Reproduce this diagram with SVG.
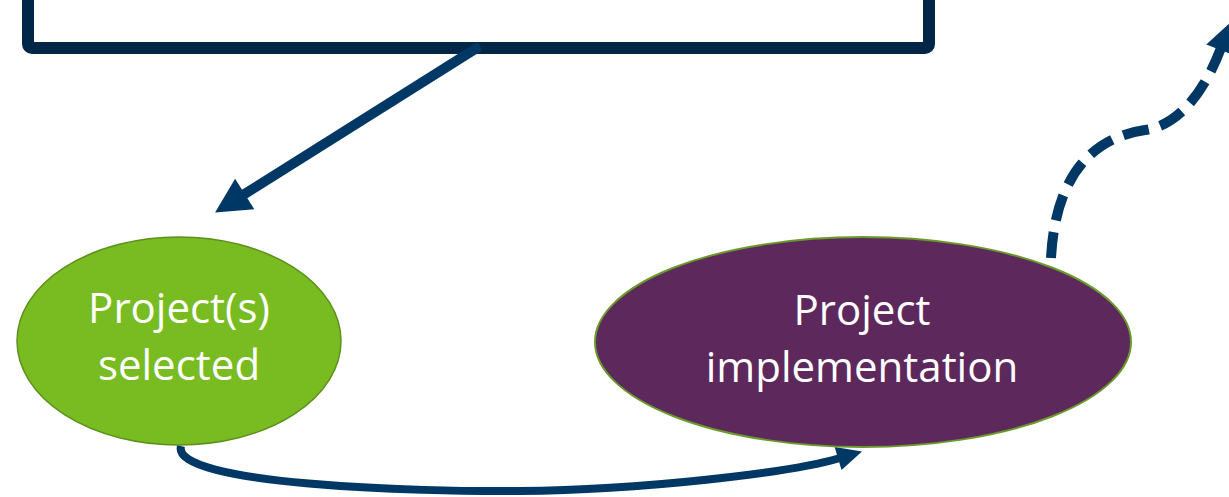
<svg xmlns="http://www.w3.org/2000/svg" width="1229" height="497" viewBox="0 0 1229 497">
  <style>
    .label { font-family: "Open Sans", "Liberation Sans", sans-serif; font-size: 42px; fill: #ffffff; text-anchor: middle; }
    .conn { fill: none; stroke: #003865; }
  </style>
  <defs>
    <marker id="headBig" markerUnits="userSpaceOnUse" markerWidth="40" markerHeight="40" refX="2" refY="18" orient="auto" overflow="visible">
      <path d="M0,0 L35,18 L0,36 z" fill="#003865"/>
    </marker>
    <marker id="headSmall" markerUnits="userSpaceOnUse" markerWidth="30" markerHeight="30" refX="2" refY="12" orient="auto" overflow="visible">
      <path d="M0,0 L25,12 L0,24 z" fill="#003865"/>
    </marker>
    <marker id="headDash" markerUnits="userSpaceOnUse" markerWidth="36" markerHeight="36" refX="2" refY="15" orient="auto" overflow="visible">
      <path d="M0,0 L30,15 L0,30 z" fill="#003865"/>
    </marker>
  </defs>
  <rect width="1229" height="497" fill="#ffffff"/>

  <g id="top-box">
    <rect x="28" y="-30" width="901" height="78" rx="4" fill="#ffffff" stroke="#012647" stroke-width="12"/>
  </g>

  <g id="connectors">
    <line class="conn" x1="480" y1="46" x2="243" y2="195" stroke-width="10" marker-end="url(#headBig)"/>
    <path class="conn" d="M181,446 C170,485 420,492 520,491 C640,490 790,473 840,458" stroke-width="8" marker-end="url(#headSmall)"/>
    <path class="conn" d="M1051,258 C1054,200 1075,140 1145,130 C1180,125 1205,90 1221,48" stroke-width="10" stroke-dasharray="26 12" marker-end="url(#headDash)"/>
  </g>

  <g id="node-selected">
    <ellipse cx="179" cy="341" rx="162" ry="104" fill="#78bc22" stroke="#5e8f1b" stroke-width="1.5"/>
    <text class="label" x="179" y="323">Project(s)</text>
    <text class="label" x="179" y="380">selected</text>
  </g>

  <g id="node-implementation">
    <ellipse cx="863" cy="342" rx="268" ry="105" fill="#5d295d" stroke="#6a9a2a" stroke-width="2"/>
    <text class="label" x="862" y="325">Project</text>
    <text class="label" x="862" y="382">implementation</text>
  </g>
</svg>
